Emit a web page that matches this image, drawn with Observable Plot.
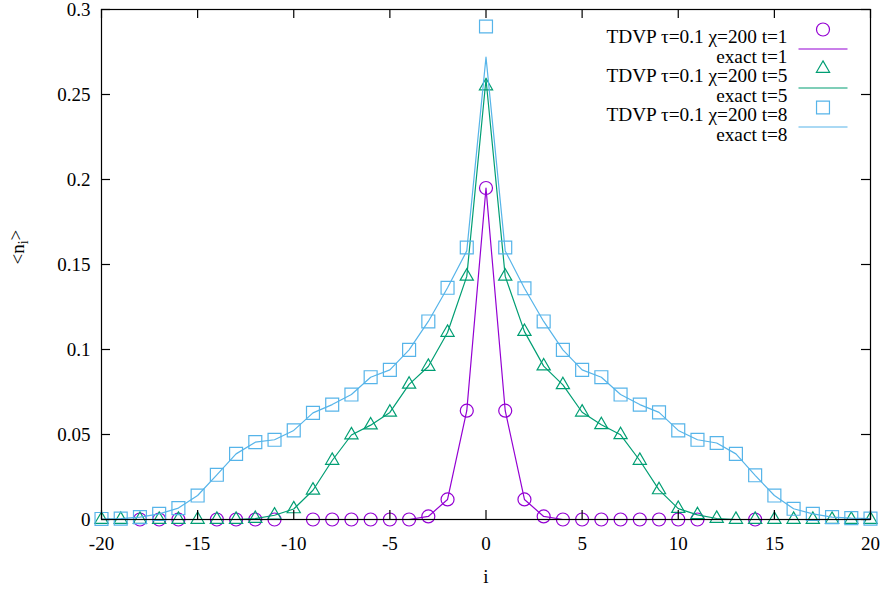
<!DOCTYPE html>
<html><head><meta charset="utf-8">
<script src="https://cdn.jsdelivr.net/npm/d3@7"></script>
<script src="https://cdn.jsdelivr.net/npm/@observablehq/plot@0.6"></script>
<style>
html,body{margin:0;padding:0;background:#fff;}
svg, svg text { font-family: "Liberation Serif", "Times New Roman", serif !important; }
</style>
</head><body><div id="chart"></div>
<script>
// site index i
const sites = [-20,-19,-18,-17,-16,-15,-14,-13,-12,-11,-10,-9,-8,-7,-6,-5,-4,-3,-2,-1,0,1,2,3,4,5,6,7,8,9,10,11,12,13,14,15,16,17,18,19,20];

// TDVP tau=0.1 chi=200, t=1 (null: point not drawn, below range)
const tdvpT1 = [null,null,0,0,0,null,0,0,0,0,null,0,0,0,0,0,0,0.0018,0.0118,0.064,0.195,0.064,0.0118,0.0018,0,0,0,0,0,0,0,0,null,null,0,null,null,null,null,null,null];
const exactT1 = [0,0,0,0,0,0,0,0,0,0,0,0,0,0,0,0,0,0.0018,0.0118,0.064,0.195,0.064,0.0118,0.0018,0,0,0,0,0,0,0,0,0,0,0,0,0,0,0,0,0];

// t=5
const tdvpT5 = [0,0,0,0,0,0,0,0,0.0005,0.0025,0.0062,0.0172,0.0347,0.0497,0.0555,0.063,0.0795,0.090,0.110,0.143,0.255,0.143,0.1105,0.0902,0.0792,0.0631,0.0557,0.0498,0.0347,0.0174,0.0064,0.0027,0.0006,0,0,0,0,0,0,0,0];
const exactT5 = [0,0,0,0,0,0,0,0,0.0005,0.0025,0.0062,0.0172,0.0347,0.0497,0.0555,0.063,0.0795,0.090,0.110,0.143,0.259,0.143,0.1105,0.0902,0.0792,0.0631,0.0557,0.0498,0.0347,0.0174,0.0064,0.0027,0.0006,0,0,0,0,0,0,0,0];

// t=8
const tdvpT8 = [0.0003,0.0005,0.0014,0.0033,0.0067,0.0141,0.0263,0.0386,0.0455,0.0469,0.0524,0.0627,0.0676,0.0735,0.0837,0.088,0.0998,0.1165,0.1363,0.160,0.290,0.160,0.136,0.1165,0.0998,0.088,0.0837,0.0735,0.0676,0.063,0.0524,0.0469,0.045,0.0386,0.026,0.0141,0.0063,0.0033,0.0014,0.0008,0.0005];
const exactT8 = [0.0003,0.0005,0.0014,0.0033,0.0067,0.0141,0.0263,0.0386,0.0455,0.0469,0.0524,0.0627,0.0676,0.0735,0.0837,0.088,0.0998,0.1165,0.1363,0.158,0.272,0.158,0.136,0.1165,0.0998,0.088,0.0837,0.0735,0.0676,0.063,0.0524,0.0469,0.045,0.0386,0.026,0.0141,0.0063,0.0033,0.0014,0.0008,0.0005];

const xTicks = [-20,-15,-10,-5,0,5,10,15,20];
const xTickLabels = ["-20","-15","-10","-5","0","5","10","15","20"];
const yTicks = [0,0.05,0.1,0.15,0.2,0.25,0.3];
const yTickLabels = ["0","0.05","0.1","0.15","0.2","0.25","0.3"];

const seriesColors = ["#9400d3","#009e73","#56b4e9"];
const seriesSymbols = ["circle","triangle","square"];
const seriesRadius = [6.5,4.9,7.3];
const legendLabels = ["TDVP \u03c4=0.1 \u03c7=200 t=1","exact t=1","TDVP \u03c4=0.1 \u03c7=200 t=5","exact t=5","TDVP \u03c4=0.1 \u03c7=200 t=8","exact t=8"];
const xLabel = "i";

const FONT = "'Liberation Serif', 'Times New Roman', serif";
const W = 882, H = 589, mL = 101, mR = 12, mT = 9, mB = 70;
const fw = W - mL - mR, fh = H - mT - mB, tick = 9;

const rows = a => sites.map((i, k) => ({i, v: a[k]}));
const pointSets = [tdvpT1, tdvpT5, tdvpT8];
const lineSets = [exactT1, exactT5, exactT8];

const lineSymbol = {draw(ctx) { ctx.moveTo(-24.5, 0); ctx.lineTo(24.5, 0); }};

const marks = [];
for (let s = 0; s < 3; s++) {
  marks.push(Plot.dot(rows(pointSets[s]).filter(d => d.v != null), {
    x: "i", y: "v", symbol: () => seriesSymbols[s], r: seriesRadius[s],
    stroke: seriesColors[s], fill: "none", strokeWidth: 1.2
  }));
  marks.push(Plot.line(rows(lineSets[s]), {
    x: "i", y: "v", stroke: seriesColors[s], strokeWidth: 1.2
  }));
}
// frame and inward ticks on all sides
marks.push(Plot.frame({stroke: "black", strokeWidth: 1.2}));
marks.push(Plot.ruleX(xTicks, {x: d => d, insetTop: fh - tick, stroke: "black", strokeWidth: 1.2}));
marks.push(Plot.ruleX(xTicks, {x: d => d, insetBottom: fh - tick, stroke: "black", strokeWidth: 1.2}));
marks.push(Plot.ruleY(yTicks, {y: d => d, insetRight: fw - tick, stroke: "black", strokeWidth: 1.2}));
marks.push(Plot.ruleY(yTicks, {y: d => d, insetLeft: fw - tick, stroke: "black", strokeWidth: 1.2}));
marks.push(Plot.axisX(xTicks, {tickSize: 0, tickPadding: 17, label: null, tickFormat: (d, k) => xTickLabels[k], fontSize: 19, fontFamily: FONT}));
marks.push(Plot.axisY(yTicks, {tickSize: 0, tickPadding: 11, label: null, tickFormat: (d, k) => yTickLabels[k], fontSize: 19, fontFamily: FONT}));
// axis titles
marks.push(Plot.text([xLabel], {text: d => d, frameAnchor: "bottom", dy: 63, fontSize: 19, fontFamily: FONT}));
marks.push(Plot.text(["<ni>"], {text: d => d, frameAnchor: "left", dx: -84, rotate: -90, fontSize: 19, fontFamily: FONT, className: "ylab"}));
// legend
const rowDy = [20, 39.5, 59, 78.5, 98, 117.5];
legendLabels.forEach((t, k) => {
  marks.push(Plot.text([t], {text: d => d, frameAnchor: "top-right", textAnchor: "end", dx: -83, dy: rowDy[k], fontSize: 19.3, fontFamily: FONT}));
  const s = Math.floor(k / 2);
  if (k % 2 === 0) {
    marks.push(Plot.dot([t], {frameAnchor: "top-right", dx: -47.5, dy: rowDy[k], symbol: seriesSymbols[s], r: seriesRadius[s], stroke: seriesColors[s], fill: "none", strokeWidth: 1.2}));
  } else {
    marks.push(Plot.dot([t], {frameAnchor: "top-right", dx: -47.5, dy: rowDy[k], symbol: lineSymbol, r: 5, stroke: seriesColors[s], fill: "none", strokeWidth: 1.2}));
  }
});

const chart = Plot.plot({
  width: W, height: H,
  marginLeft: mL, marginRight: mR, marginTop: mT, marginBottom: mB,
  x: {domain: [-20, 20], axis: null},
  y: {domain: [0, 0.3], axis: null},
  style: {fontFamily: FONT, fontSize: "19px", background: "white", color: "black"},
  marks
});
document.getElementById("chart").appendChild(chart);

// subscript in y label
const yl = chart.querySelector(".ylab text");
if (yl) {
  yl.textContent = "";
  const ns = "http://www.w3.org/2000/svg";
  const a = document.createElementNS(ns, "tspan"); a.textContent = "<n"; yl.appendChild(a);
  const b = document.createElementNS(ns, "tspan"); b.textContent = "i"; b.setAttribute("dy", "0.3em"); b.setAttribute("font-size", "14"); yl.appendChild(b);
  const c = document.createElementNS(ns, "tspan"); c.textContent = ">"; c.setAttribute("dy", "-0.3em"); yl.appendChild(c);
}
</script>
</body></html>
